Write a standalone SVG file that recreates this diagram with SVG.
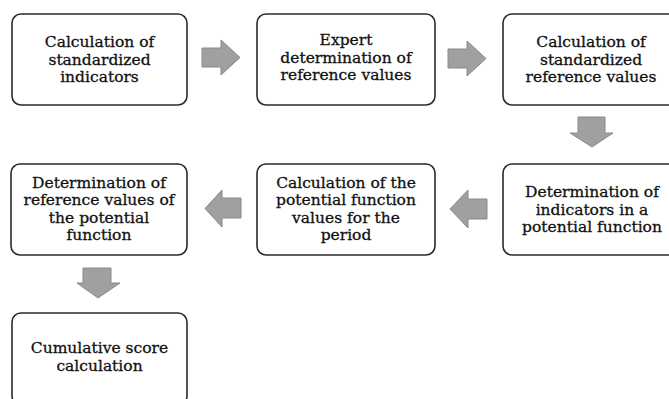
<svg xmlns="http://www.w3.org/2000/svg" width="669" height="399" viewBox="0 0 669 399">
<style>
.box{fill:#fff;stroke:#2a2a2a;stroke-width:1.6}
.t{font-family:"DejaVu Serif","Liberation Serif",serif;font-size:15.5px;fill:#111;stroke:#111;stroke-width:0.3;text-anchor:middle}
.ar{fill:#a0a0a0;stroke:#8a8a8a;stroke-width:1}
</style>
<rect width="669" height="399" fill="#fff"/>
<g id="n1"><rect class="box" x="12" y="14" width="175" height="91" rx="9"/>
<text class="t" x="99.5" y="47">Calculation of</text><text class="t" x="99.5" y="64.5">standardized</text><text class="t" x="99.5" y="82">indicators</text></g>
<g id="n2"><rect class="box" x="257" y="14" width="178" height="91" rx="9"/>
<text class="t" x="346" y="45">Expert</text><text class="t" x="346" y="62.5">determination of</text><text class="t" x="346" y="80">reference values</text></g>
<g id="n3"><rect class="box" x="503" y="14" width="178" height="91" rx="9"/>
<text class="t" x="591" y="47">Calculation of</text><text class="t" x="591" y="64.5">standardized</text><text class="t" x="591" y="82">reference values</text></g>
<g id="n4"><rect class="box" x="11" y="164" width="176" height="91" rx="9"/>
<text class="t" x="99" y="187.5">Determination of</text><text class="t" x="99" y="205">reference values of</text><text class="t" x="99" y="222.5">the potential</text><text class="t" x="99" y="240">function</text></g>
<g id="n5"><rect class="box" x="257" y="164" width="178" height="91" rx="9"/>
<text class="t" x="346" y="187.5">Calculation of the</text><text class="t" x="346" y="205">potential function</text><text class="t" x="346" y="222.5">values for the</text><text class="t" x="346" y="240">period</text></g>
<g id="n6"><rect class="box" x="503" y="164" width="178" height="91" rx="9"/>
<text class="t" x="592" y="197">Determination of</text><text class="t" x="592" y="214.5">indicators in a</text><text class="t" x="592" y="232">potential function</text></g>
<g id="n7"><rect class="box" x="12" y="313" width="175" height="92" rx="9"/>
<text class="t" x="99.5" y="353">Cumulative score</text><text class="t" x="99.5" y="370.5">calculation</text></g>
<g id="connectors">
<polygon class="ar" points="202,48 221,48 221,40 240,57.5 221,75 221,67 202,67"/>
<polygon class="ar" points="448,49 467,49 467,41 486,58.5 467,76 467,68 448,68"/>
<polygon class="ar" points="578,117 605,117 605,133 613,133 592,147 570,133 578,133"/>
<polygon class="ar" points="487,199 468,199 468,190 450,209 468,228 468,219 487,219"/>
<polygon class="ar" points="241,198 222,198 222,190 205,208.5 222,227 222,218 241,218"/>
<polygon class="ar" points="83,268 111,268 111,283 120,283 98,298 77,283 83,283"/>
</g>
</svg>
